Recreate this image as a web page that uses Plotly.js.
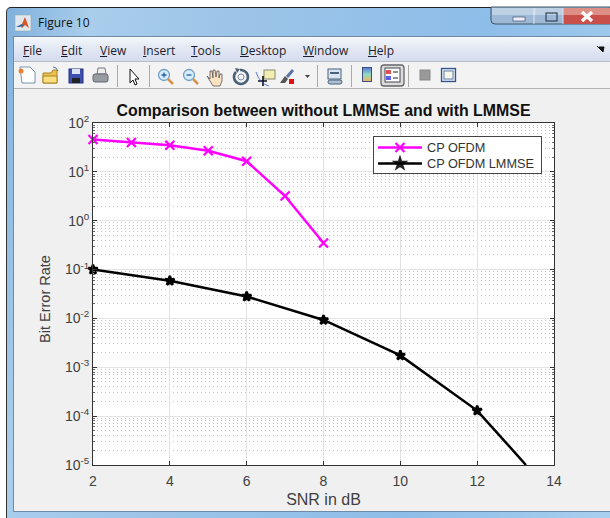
<!DOCTYPE html>
<html><head><meta charset="utf-8">
<script src="https://cdn.plot.ly/plotly-3.0.1.min.js"></script>
<style>
html,body{margin:0;padding:0;background:#fff;width:610px;height:518px;overflow:hidden}
#win{position:absolute;left:6px;top:7px;width:604px;height:511px;background:linear-gradient(100deg,#7fb0dc 0%,#a9cdeb 12%,#9cc4e8 35%,#8dbde9 70%,#a8cfee 100%);border-top:1px solid #222;border-left:1px solid #333;box-sizing:border-box;border-top-left-radius:5px}
#inner{position:absolute;left:13px;top:36px;width:597px;height:476px;background:#f0f0f0;border:1px solid #6f8aa5;border-right:none;box-sizing:border-box}
#menu{position:absolute;left:14px;top:37px;width:596px;height:25px;background:linear-gradient(#f5f8fc 0%,#e6ebf5 35%,#d5dcee 100%);border-bottom:1px solid #b9bcc2;box-sizing:border-box}
#tool{position:absolute;left:14px;top:62px;width:596px;height:27px;background:#f3f3f3;border-bottom:1px solid #b4b4b4;box-sizing:border-box}
.m{position:absolute;top:43px;font:12px "Open Sans","Liberation Sans",sans-serif;color:#1c1c2c;line-height:15px}
.m u{text-decoration:underline}
#ttl{position:absolute;left:38px;top:14px;font:12px "Open Sans","Liberation Sans",sans-serif;color:#111}
#icons{position:absolute;left:0;top:0}
#chart{position:absolute;left:0;top:0;width:610px;height:518px}
</style></head><body>
<div id="win"></div><div id="inner"></div><div id="menu"></div><div id="tool"></div>
<div id="ttl">Figure 10</div>
<div class="m" style="left:23px"><u>F</u>ile</div>
<div class="m" style="left:61px"><u>E</u>dit</div>
<div class="m" style="left:100px"><u>V</u>iew</div>
<div class="m" style="left:143px"><u>I</u>nsert</div>
<div class="m" style="left:191px"><u>T</u>ools</div>
<div class="m" style="left:240px"><u>D</u>esktop</div>
<div class="m" style="left:303px"><u>W</u>indow</div>
<div class="m" style="left:368px"><u>H</u>elp</div>
<svg id="icons" width="610" height="100" xmlns="http://www.w3.org/2000/svg">
  <rect x="15" y="15" width="16" height="16" fill="#dfe6ee" stroke="#8aa" stroke-width=".5"/>
  <path d="M16 27l6-3 3-7 4 11-4-3-3 3-2-3z" fill="#d9541e"/><path d="M16 27l6-3 2 1-4 2z" fill="#2a6fb5"/>
  <path d="M491 7h119v17H495a4 4 0 0 1-4-4z" fill="#9db9d5" stroke="#3d5468" stroke-width="1"/>
  <rect x="492" y="8" width="44" height="7" fill="#c7d6e6" opacity=".8"/>
  <rect x="534" y="8" width="29" height="7" fill="#c7d6e6" opacity=".8"/>
  <rect x="563" y="8" width="47" height="16" fill="#c9504a"/>
  <rect x="563" y="8" width="47" height="7" fill="#dd8f86"/>
  <line x1="534" y1="8" x2="534" y2="24" stroke="#eef" stroke-width=".8"/>
  <line x1="563" y1="8" x2="563" y2="24" stroke="#eef" stroke-width=".8"/>
  <rect x="513" y="17" width="12" height="4" fill="#eef" stroke="#456" stroke-width=".7"/>
  <rect x="546" y="13" width="11" height="8" fill="none" stroke="#345" stroke-width="1.2"/>
  <path d="M582 12l10 9M592 12l-10 9" stroke="#fff" stroke-width="3.4"/>
  <path d="M599 47h5l-1 5zM597 46l5 5" fill="#111" stroke="#111" stroke-width="1"/>
  <g transform="translate(0,2)">
  <g transform="translate(1,0)"><path d="M19 65h10l5 5v11H21z" fill="#fff" stroke="#7c93ad"/><circle cx="20" cy="69" r="2.5" fill="#f08030"/></g>
  <g transform="translate(6,0)"><path d="M37 71h8l2-3h4v13H37z" fill="#eac04f" stroke="#a88424"/><path d="M37 74h14v7H37z" fill="#f8de7e" stroke="#a88424"/><path d="M47 65l3 1 2 3" stroke="#57a" fill="none"/></g>
  <g transform="translate(10,0)"><rect x="59" y="67" width="14" height="14" fill="#3f4fb0" stroke="#24307a"/><rect x="62" y="67" width="8" height="5" fill="#dfe4f4"/><rect x="62" y="76" width="8" height="5" fill="#222"/></g>
  <g transform="translate(14,0)"><path d="M84 66h7l1 6h-9z" fill="#eee" stroke="#778"/><rect x="79" y="72" width="15" height="8" rx="2" fill="#989ca0" stroke="#667"/></g>
  <g transform="translate(19,0)"><path d="M111 67v14l3-3 2 5 2-1-2-5h4z" fill="#fff" stroke="#111"/></g>
  <g transform="translate(24,0)"><circle cx="140" cy="73" r="5.500" fill="#d6ecf9" stroke="#6f9fc4" stroke-width="1.300"/><path d="M137.500 73h5M140 70.500v5" stroke="#2a5fa5" stroke-width="1.300"/><path d="M144 77l5 5" stroke="#d4954a" stroke-width="2.500"/></g>
  <g transform="translate(27,0)"><circle cx="162" cy="73" r="5.500" fill="#d6ecf9" stroke="#6f9fc4" stroke-width="1.300"/><path d="M159.500 73h5" stroke="#2a5fa5" stroke-width="1.300"/><path d="M166 77l5 5" stroke="#d4954a" stroke-width="2.500"/></g>
  <g transform="translate(29,0)"><path d="M178 74l3 3v-8l2 0 1 7v-8h2l1 7 1-6h2l0 7 1-4h2v7l-2 5h-7z" fill="#fbe2c0" stroke="#555" stroke-width=".8"/></g>
  <g transform="translate(36,0)"><path d="M204 68a7 7 0 1 1-4 2" fill="none" stroke="#4a5f76" stroke-width="2.500"/><circle cx="205" cy="75" r="3" fill="none" stroke="#7a8fa6"/><path d="M199 66l5 1-3 4z" fill="#4a5f76"/></g>
  <g transform="translate(38,0)"><rect x="226" y="68" width="11" height="9" fill="#f2eeb0" stroke="#887"/><path d="M220 79h9M225 74v10" stroke="#111" stroke-width="1.600"/><path d="M218 70q4 12 13 14" fill="none" stroke="#35c" stroke-width=".8"/></g>
  <g transform="translate(37,0)"><path d="M256 68l-6 7" stroke="#5a76a8" stroke-width="3"/><path d="M248 74l3 3-3 4h-5z" fill="#555"/><rect x="252" y="77" width="5" height="5" fill="#e01010"/></g>
  <g transform="translate(42,0)"><path d="M263 73h5l-2.500 3z" fill="#444"/></g>
  <g transform="translate(1,0)"><rect x="327" y="67" width="13" height="10" fill="#dbe4ef" stroke="#46627f"/><rect x="329" y="70" width="9" height="2" fill="#46627f"/><rect x="327" y="78" width="14" height="4" rx="2" fill="#aebfd0" stroke="#46627f"/></g>
  </g>
  <line x1="117.500" y1="65" x2="117.500" y2="87" stroke="#aaa"/>
  <line x1="149.500" y1="65" x2="149.500" y2="87" stroke="#aaa"/>
  <line x1="317.500" y1="65" x2="317.500" y2="87" stroke="#aaa"/>
  <line x1="351.500" y1="65" x2="351.500" y2="87" stroke="#aaa"/>
  <line x1="408.500" y1="65" x2="408.500" y2="87" stroke="#aaa"/>
  <defs><linearGradient id="cb" x1="0" y1="0" x2="0" y2="1"><stop offset="0" stop-color="#5a78d8"/><stop offset=".5" stop-color="#8fdcc0"/><stop offset="1" stop-color="#f6b060"/></linearGradient></defs>
  <rect x="362.500" y="67.500" width="9" height="14" fill="url(#cb)" stroke="#3a4f80"/>
  <rect x="381" y="65" width="23" height="21" rx="3" fill="#dcdcdc" stroke="#666" stroke-width="1.300"/>
  <rect x="385" y="68" width="15" height="14" fill="#fff" stroke="#445"/><rect x="386" y="70" width="5" height="4" fill="#e05050"/><rect x="386" y="76" width="5" height="4" fill="#5a60e0"/><path d="M393 72h5M393 78h5" stroke="#222"/>
  <rect x="420" y="70" width="10" height="10" fill="#9a9a9a" stroke="#888"/>
  <rect x="441.500" y="68.500" width="14" height="13" fill="#dbe6f2" stroke="#33558c" stroke-width="1.300"/><rect x="444" y="71" width="9" height="8" fill="#f5f5e8" stroke="#33558c" stroke-width=".7"/>
</svg>
<div id="chart"></div>
<script>
var snrA = [2, 3, 4, 5, 6, 7, 8];
var berA = [46, 40, 35, 27, 16.5, 3.2, 0.35];
var snrB = [2, 4, 6, 8, 10, 12, 13.27];
var berB = [0.1, 0.059, 0.028, 0.0093, 0.00175, 0.00013, 0.00001];
var markerOpacityB = [1, 1, 1, 1, 1, 1, 0];
var nameA = 'CP OFDM';
var nameB = 'CP OFDM LMMSE';
var yTickVals = [100, 10, 1, 0.1, 0.01, 0.001, 0.0001, 0.00001];
var yTickText = ['10<sup>2</sup>','10<sup>1</sup>','10<sup>0</sup>','10<sup>-1</sup>','10<sup>-2</sup>','10<sup>-3</sup>','10<sup>-4</sup>','10<sup>-5</sup>'];
var xTickVals = [2, 4, 6, 8, 10, 12, 14];
var titleText = 'Comparison between without LMMSE and with LMMSE';
var xTitle = 'SNR in dB';
var yTitle = 'Bit Error Rate';

var font = '"Liberation Sans",Arial,sans-serif';
var W = 610, H = 518, L = 93, R = 554, T = 123, B = 465;
var traces = [
  {x: snrA, y: berA, name: nameA, mode: 'lines+markers', cliponaxis: false,
   line: {color: '#ff00ff', width: 2.5},
   marker: {symbol: 'x-thin', size: 9, line: {color: '#ff00ff', width: 2.2}, color: '#ff00ff'}},
  {x: snrB, y: berB, name: nameB, mode: 'lines+markers', cliponaxis: false,
   line: {color: '#000', width: 2.5},
   marker: {symbol: 'star', size: 7, color: '#000', opacity: markerOpacityB, line: {color: '#000', width: 2.5}}}
];
var layout = {
  width: W, height: H,
  margin: {l: L, r: W - R, t: T, b: H - B, pad: 0},
  paper_bgcolor: 'rgba(0,0,0,0)', plot_bgcolor: '#fff',
  font: {family: font, size: 14, color: '#404040'},
  title: {text: '<b>' + titleText + '</b>', font: {family: font, size: 15.9, color: '#111'},
          x: 0.5, xref: 'paper', xanchor: 'center', y: 1 - 110 / H, yanchor: 'middle', automargin: false},
  xaxis: {type: 'linear', range: [2, 14], tickmode: 'array', tickvals: xTickVals,
          ticks: 'inside', ticklen: 4, tickcolor: '#333', showgrid: true, gridcolor: '#e2e2e2', gridwidth: 1,
          showline: true, linecolor: '#333', linewidth: 1, mirror: 'ticks', zeroline: false,
          ticklabelstandoff: 3,
          tickfont: {size: 14, color: '#404040'},
          title: {text: xTitle, font: {size: 16, color: '#404040'}, standoff: 6}},
  yaxis: {type: 'log', range: [-5, 2], tickmode: 'array', tickvals: yTickVals, ticktext: yTickText,
          ticks: 'inside', ticklen: 4, tickcolor: '#333', showgrid: true, gridcolor: '#e4e4e4', gridwidth: 1,
          showline: true, linecolor: '#333', linewidth: 1, mirror: 'ticks', zeroline: false,
          tickfont: {size: 14, color: '#404040'},
          minor: {tickmode: 'linear', dtick: 'D1', showgrid: true, gridcolor: '#c4c4c4', griddash: '1px,3px', gridwidth: 1,
                  ticks: 'inside', ticklen: 2, tickcolor: '#666'},
          title: {text: yTitle, font: {size: 14.500, color: '#404040'}, standoff: 10}},
  legend: {x: (373 - L) / (R - L), xanchor: 'left', y: 1 - (135.5 - T) / (B - T), yanchor: 'top',
           bgcolor: '#fff', bordercolor: '#444', borderwidth: 1,
           font: {family: font, size: 12.700, color: '#333'}, itemwidth: 44, tracegroupgap: 0},
  showlegend: true
};
Plotly.newPlot('chart', traces, layout, {displayModeBar: false, staticPlot: true}).then(function (gd) {
  // tighten legend rows to the reference's spacing
  var items = gd.querySelectorAll('.legend .traces');
  if (items.length === 2) {
    items[0].setAttribute('transform', 'translate(0,' + 12 + ')');
    items[1].setAttribute('transform', 'translate(0,' + 28 + ')');
  }
  var bg = gd.querySelector('.legend .bg');
  if (bg) { bg.setAttribute('height', 37.500); bg.setAttribute('width', 167.500); }
  var yt = gd.querySelector('.ytitle');
  if (yt) yt.setAttribute('transform', 'translate(0,5) ' + (yt.getAttribute('transform') || ''));
});
</script>
</body></html>
